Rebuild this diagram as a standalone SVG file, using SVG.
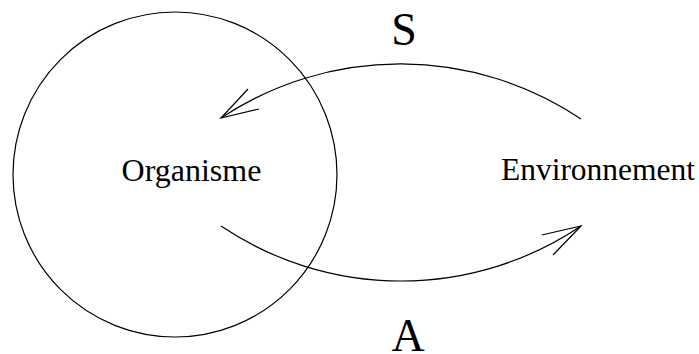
<svg xmlns="http://www.w3.org/2000/svg" width="699" height="354" viewBox="0 0 699 354">
<style>
.ln{fill:none;stroke:#000;stroke-width:1.2}
.t{font-family:"Liberation Serif","Times New Roman",serif;fill:#000}
</style>
<rect width="699" height="354" fill="#fff"/>
<g id="organisme">
<ellipse class="ln" cx="175" cy="174.5" rx="162" ry="162.5"/>
<text class="t" x="191.5" y="181" font-size="32" text-anchor="middle">Organisme</text>
</g>
<g id="environnement">
<text class="t" x="598" y="180" font-size="31.5" text-anchor="middle">Environnement</text>
</g>
<g id="connectors">
<path class="ln" d="M581,119 A324,324 0 0 0 221,118"/>
<path class="ln" d="M248,89 L221,118 L259,109"/>
<path class="ln" d="M221,226 A322,322 0 0 0 581,226"/>
<path class="ln" d="M541.7,235 L581,226 L553,255"/>
<text class="t" x="404" y="45" font-size="46" text-anchor="middle">S</text>
<text class="t" x="408" y="351" font-size="46" text-anchor="middle">A</text>
</g>
</svg>
